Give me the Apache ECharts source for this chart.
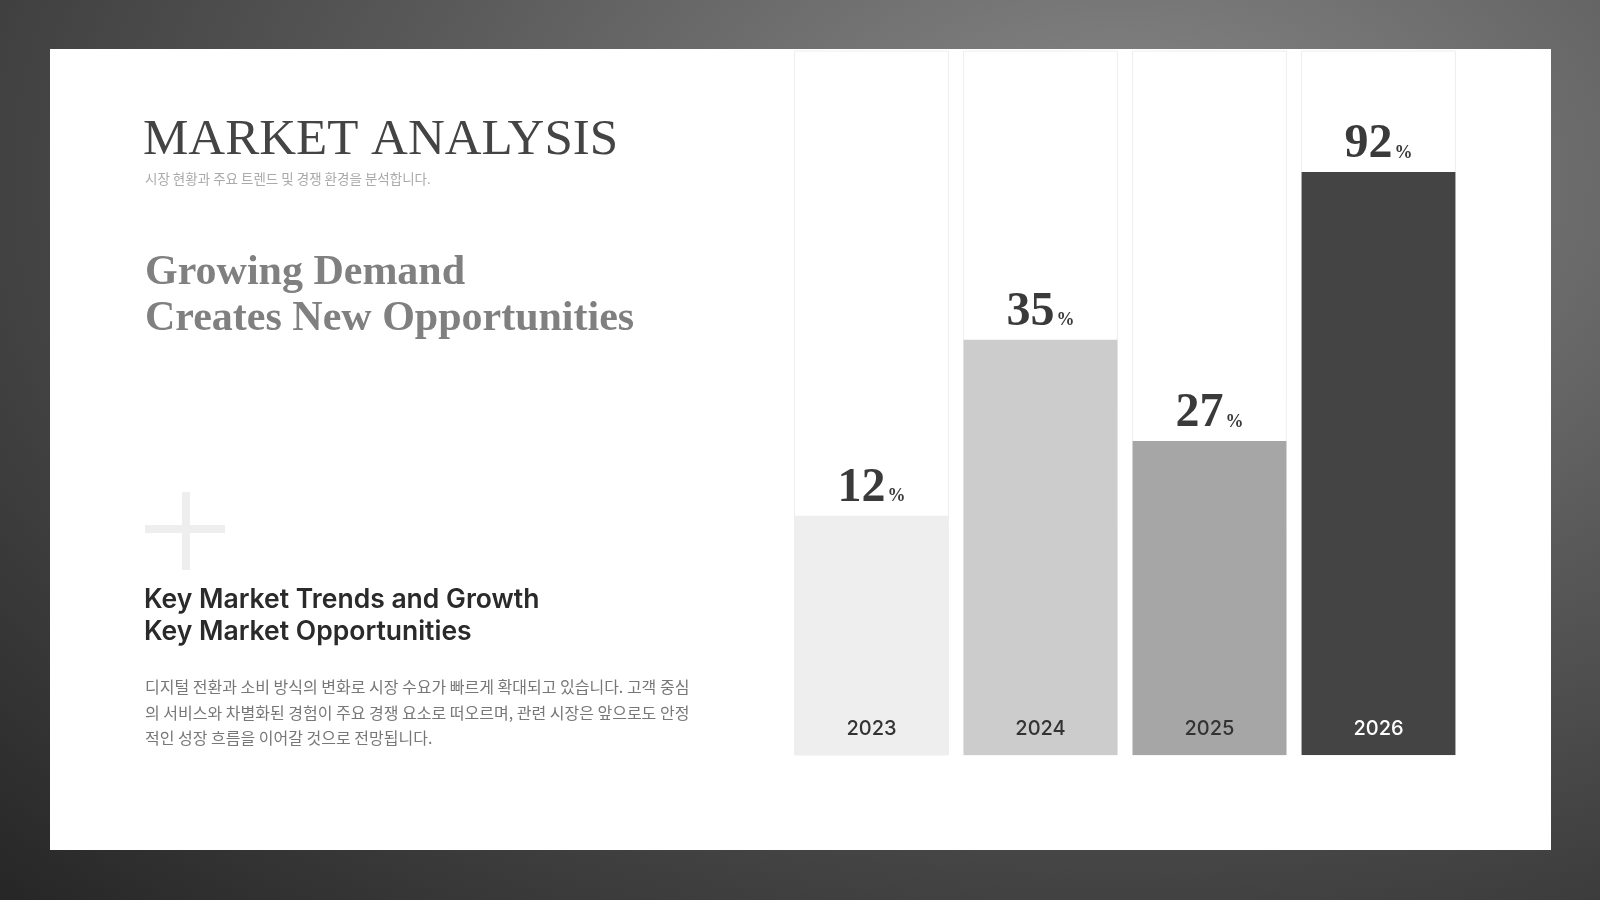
<!DOCTYPE html>
<html><head><meta charset="utf-8">
<script src="https://cdn.jsdelivr.net/npm/echarts@6/dist/echarts.min.js"></script>
<style>
html,body{margin:0;padding:0;width:1600px;height:900px;overflow:hidden;
background:radial-gradient(ellipse at 70% 20%,#8a8a8a 0%,#5a5a5a 45%,#262626 100%);}
#c{width:1600px;height:900px;}
</style></head><body><div id="c"></div>
<script>
// years and displayed growth values
var years = ['2023', '2024', '2025', '2026'];
var growth = [12, 35, 27, 92];
// bar heights as drawn in the picture (share of the column, 0-100)
var barHeights = [34, 59, 44.6, 82.8];
var barColors = ['#eeeeee', '#cccccc', '#a6a6a6', '#444444'];
var yearColors = ['#333333', '#333333', '#333333', '#ffffff'];
var bodyLines = [
  '디지털 전환과 소비 방식의 변화로 시장 수요가 빠르게 확대되고 있습니다. 고객 중심',
  '의 서비스와 차별화된 경험이 주요 경쟁 요소로 떠오르며, 관련 시장은 앞으로도 안정',
  '적인 성장 흐름을 이어갈 것으로 전망됩니다.'
];

var serif = '"Liberation Serif", "DejaVu Serif", serif';
var sans = 'Inter, "Noto Sans CJK KR", sans-serif';
var kr = '"Noto Sans CJK KR", sans-serif';

var graphics = [
  { type: 'rect', z: -10, shape: { x: 50, y: 49, width: 1501, height: 801 }, style: { fill: '#ffffff' } },
  { type: 'text', left: 143, top: 115, style: { text: 'MARKET ANALYSIS', font: '51px ' + serif, fill: '#444444' } },
  { type: 'text', left: 145, top: 172, style: { text: '시장 현황과 주요 트렌드 및 경쟁 환경을 분석합니다.', font: '13.5px ' + kr, fill: '#aaaaaa' } },
  { type: 'text', left: 145, top: 250, style: { text: 'Growing Demand\nCreates New Opportunities', font: 'bold 42px ' + serif, fill: '#808080', lineHeight: 46 } },
  { type: 'rect', shape: { x: 145, y: 525, width: 80, height: 8 }, style: { fill: '#eeeeee' } },
  { type: 'rect', shape: { x: 182, y: 492, width: 8, height: 78 }, style: { fill: '#eeeeee' } },
  { type: 'text', left: 144, top: 584, style: { text: 'Key Market Trends and Growth\nKey Market Opportunities', font: '600 26.5px ' + sans, fill: '#2a2a2a', lineHeight: 32 } }
];
bodyLines.forEach(function (t, i) {
  graphics.push({ type: 'text', left: 145, top: 679 + i * 25.5, style: { text: t, font: '16px ' + kr, fill: '#777777' } });
});

var option = {
  animation: false,
  graphic: graphics,
  grid: { left: 787, right: 137, top: 51, bottom: 145 },
  xAxis: {
    type: 'category', data: years,
    axisLine: { show: false }, axisTick: { show: false }, axisLabel: { show: false }
  },
  yAxis: { type: 'value', min: 0, max: 100, show: false, splitLine: { show: false } },
  series: [{
    type: 'bar',
    barCategoryGap: '9%',
    data: barHeights.map(function (h, i) {
      return { value: h, itemStyle: { color: barColors[i] } };
    }),
    showBackground: true,
    backgroundStyle: { color: '#ffffff', borderColor: '#eeeeee', borderWidth: 1 },
    label: {
      show: true, position: 'top', distance: 3,
      formatter: function (p) { return '{n|' + growth[p.dataIndex] + '}{p|%}'; },
      rich: {
        n: { fontFamily: serif, fontWeight: 'bold', fontSize: 48, color: '#3a3a3a' },
        p: { fontFamily: serif, fontWeight: 'bold', fontSize: 18, color: '#3a3a3a', padding: [16, 0, 0, 2] }
      }
    }
  }, {
    type: 'bar',
    barGap: '-100%',
    barCategoryGap: '9%',
    silent: true,
    data: barHeights.map(function (h, i) {
      return { value: h, label: { color: yearColors[i] } };
    }),
    itemStyle: { color: 'rgba(0,0,0,0)' },
    label: {
      show: true, position: 'insideBottom', distance: 16,
      fontFamily: sans, fontSize: 20, fontWeight: 500,
      formatter: function (p) { return years[p.dataIndex]; }
    },
    z: 3
  }]
};
echarts.init(document.getElementById('c')).setOption(option);
</script></body></html>
